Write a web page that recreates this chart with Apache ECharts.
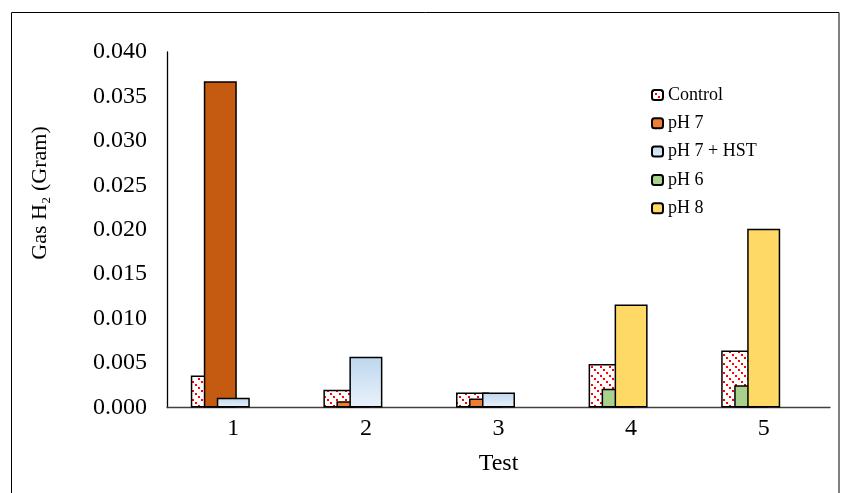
<!DOCTYPE html>
<html>
<head>
<meta charset="utf-8">
<script src="https://cdn.jsdelivr.net/npm/echarts@6/dist/echarts.min.js"></script>
<style>
html,body{margin:0;padding:0;background:#fff;}
#chart{width:849px;height:493px;}
</style>
</head>
<body>
<div id="chart"></div>
<script>
const categories = ['1', '2', '3', '4', '5'];
const seriesNames = ['Control', 'pH 7', 'pH 7 + HST', 'pH 6', 'pH 8'];
const controlValues = [0.0036, 0.0020, 0.0017, 0.0049, 0.0064];
const ph7Values = [0.0367, 0.0007, 0.0010, null, null];
const ph7HstValues = [0.0011, 0.0057, 0.0017, null, null];
const ph6Values = [null, null, null, 0.0021, 0.0025];
const ph8Values = [null, null, null, 0.0116, 0.0201];
const yMin = 0, yMax = 0.040, yInterval = 0.005;
const xTitle = 'Test';
const yTitle = 'Gas H\u2082 (Gram)';

// hatch pattern (downward diagonal dotted lines, red on white) for Control
function makeHatch() {
  const c = document.createElement('canvas');
  c.width = 9; c.height = 9;
  const g = c.getContext('2d');
  g.fillStyle = '#ffffff';
  g.fillRect(0, 0, 9, 9);
  g.fillStyle = '#ff0000';
  g.fillRect(0, 0, 2, 2);
  g.fillRect(3, 3, 2, 2);
  g.fillRect(6, 6, 2, 2);
  return c;
}
const hatch = { image: makeHatch(), repeat: 'repeat' };

const FONT = '"Liberation Serif", "Times New Roman", serif';
const border = { borderColor: '#000', borderWidth: 1.5 };
const common = { type: 'bar', barWidth: 33, barGap: '-60.6%', barCategoryGap: '20%' };

const option = {
  animation: false,
  backgroundColor: '#fff',
  grid: { left: 167, right: 19, top: 52, bottom: 85.5, containLabel: false },
  legend: {
    data: seriesNames,
    orient: 'vertical',
    left: 651,
    top: 86,
    padding: 0,
    itemWidth: 11,
    itemHeight: 10,
    itemGap: 10.3,
    textStyle: { fontFamily: FONT, fontSize: 18, color: '#000', lineHeight: 18 }
  },
  xAxis: {
    type: 'category',
    data: categories,
    name: xTitle,
    nameLocation: 'middle',
    nameGap: 44,
    nameTextStyle: { fontFamily: FONT, fontSize: 24, color: '#000' },
    axisLine: { lineStyle: { color: '#404040', width: 1.3 } },
    axisTick: { show: false },
    axisLabel: { fontFamily: FONT, fontSize: 24, color: '#000', margin: 9 }
  },
  yAxis: {
    type: 'value',
    min: yMin, max: yMax, interval: yInterval,
    axisLine: { show: true, lineStyle: { color: '#000', width: 1.3 } },
    axisTick: { show: false },
    splitLine: { show: false },
    axisLabel: { fontFamily: FONT, fontSize: 24, color: '#000', margin: 20,
      formatter: v => v.toFixed(3) }
  },
  graphic: [{
    type: 'rect',
    shape: { x: 11.5, y: 12.5, width: 827.5, height: 520 },
    style: { fill: 'none', stroke: '#000', lineWidth: 1 },
    silent: true, z: 100
  }, {
    type: 'text',
    x: 40, y: 193,
    rotation: Math.PI / 2,
    style: { text: yTitle, font: '22px ' + FONT, fill: '#000',
      textAlign: 'center', textVerticalAlign: 'middle' },
    silent: true
  }],
  series: [
    Object.assign({}, common, { name: seriesNames[0], stack: 'a', data: controlValues,
      itemStyle: Object.assign({ color: hatch }, border) }),
    Object.assign({}, common, { name: seriesNames[1], stack: 'b',
      data: ph7Values.map((v, i) => i === 0 ? { value: v, itemStyle: { color: '#C55A11' } } : v),
      itemStyle: Object.assign({ color: '#ED7D31' }, border) }),
    Object.assign({}, common, { name: seriesNames[2], stack: 'c', data: ph7HstValues,
      itemStyle: Object.assign({ color: { type: 'linear', x: 0, y: 0, x2: 0, y2: 1,
        colorStops: [{ offset: 0, color: '#BDD7EE' }, { offset: 1, color: '#EAF2FB' }] } }, border) }),
    Object.assign({}, common, { name: seriesNames[3], stack: 'b', data: ph6Values,
      itemStyle: Object.assign({ color: '#A9D18E' }, border) }),
    Object.assign({}, common, { name: seriesNames[4], stack: 'c', data: ph8Values,
      itemStyle: Object.assign({ color: '#FFD966' }, border) }),
    Object.assign({}, common, { name: '_slot4', stack: 'd', data: [] }),
    Object.assign({}, common, { name: '_slot5', stack: 'e', data: [] })
  ]
};

const chart = echarts.init(document.getElementById('chart'), null, { renderer: 'canvas' });
chart.setOption(option);
</script>
</body>
</html>
